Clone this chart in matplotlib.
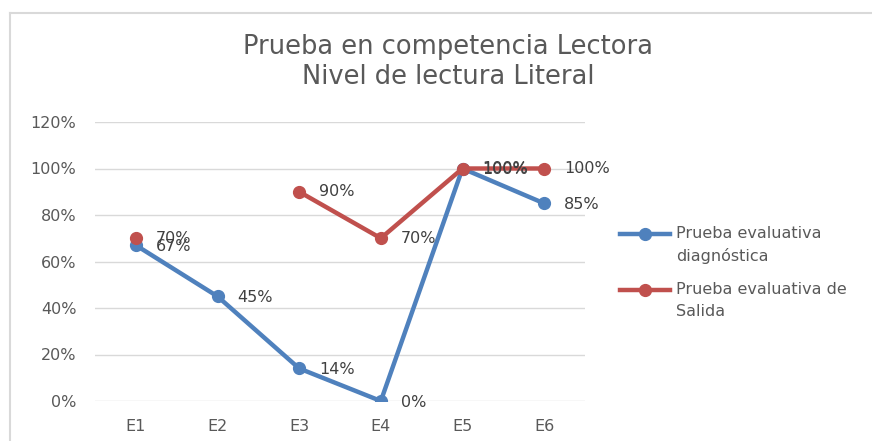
import matplotlib
matplotlib.use("Agg")
import matplotlib.pyplot as plt
import numpy as np
from matplotlib.lines import Line2D

categories = ["E1", "E2", "E3", "E4", "E5", "E6"]
diagnostica = [0.67, 0.45, 0.14, 0.00, 1.00, 0.85]
salida = [0.70, np.nan, 0.90, 0.70, 1.00, 1.00]
series_names = ["Prueba evaluativa\ndiagnóstica", "Prueba evaluativa de\nSalida"]
yticks = [0, 0.2, 0.4, 0.6, 0.8, 1.0, 1.2]
title = "Prueba en competencia Lectora\nNivel de lectura Literal"

plt.rcParams['font.family'] = ['DejaVu Sans']

W, H = 872, 441
fig = plt.figure(figsize=(W / 100, H / 100), dpi=100)
ax = fig.add_axes([95 / W, 1 - 401 / H, (585 - 95) / W, (401 - 122) / H])

blue = "#4F81BD"
red = "#C0504D"
colors = [blue, red]
x = np.arange(len(categories))

ax.plot(x, diagnostica, color=blue, lw=3.2, marker="o", ms=8.5, zorder=3)
ax.plot(x, salida, color=red, lw=3.2, marker="o", ms=8.5, zorder=3)

for xi, v in zip(x, diagnostica):
    if not np.isnan(v):
        ax.annotate(f"{v*100:.0f}%", (xi, v), xytext=(14.5, -1), textcoords="offset points",
                    ha="left", va="center", fontsize=11.5, color="#404040", zorder=4)
for xi, v in zip(x, salida):
    if not np.isnan(v):
        ax.annotate(f"{v*100:.0f}%", (xi, v), xytext=(14.5, 0), textcoords="offset points",
                    ha="left", va="center", fontsize=11.5, color="#404040", zorder=4)

ax.set_xlim(-0.5, len(categories) - 0.5)
ax.set_ylim(0, 1.2)
ax.set_yticks(yticks)
ax.set_yticklabels([f"{t*100:.0f}%" for t in yticks])
ax.set_xticks(x)
ax.set_xticklabels(categories)
ax.tick_params(length=0, labelsize=11.5, labelcolor="#595959")
ax.tick_params(axis="y", pad=13.5)
ax.tick_params(axis="x", pad=13)
ax.grid(axis="y", color="#D9D9D9", lw=1)
ax.set_axisbelow(True)
for s in ax.spines.values():
    s.set_visible(False)

fig.text(448 / W, 1 - 62.5 / H, title, ha="center", va="center", fontsize=18.5,
         color="#595959", linespacing=1.2)

# legend drawn manually so the handle aligns with the first text line
leg_y = [234, 290]
for c, name, yy in zip(colors, series_names, leg_y):
    yf = 1 - yy / H
    fig.add_artist(Line2D([620 / W, 670 / W], [yf, yf], transform=fig.transFigure,
                          color=c, lw=3.2))
    fig.add_artist(Line2D([645 / W], [yf], transform=fig.transFigure, color=c,
                          marker="o", ms=8.5, lw=0))
    fig.text(676 / W, 1 - (yy - 8.5) / H, name, ha="left", va="top", fontsize=11.5,
             color="#595959", linespacing=1.6)

# border lines (left and top)
fig.add_artist(Line2D([10 / W, 10 / W], [0, 1 - 12.5 / H], transform=fig.transFigure,
                      color="#D9D9D9", lw=1.5))
fig.add_artist(Line2D([10 / W, 1], [1 - 12.5 / H, 1 - 12.5 / H], transform=fig.transFigure,
                      color="#D9D9D9", lw=1.5))

fig.savefig("out.png", dpi=100)
